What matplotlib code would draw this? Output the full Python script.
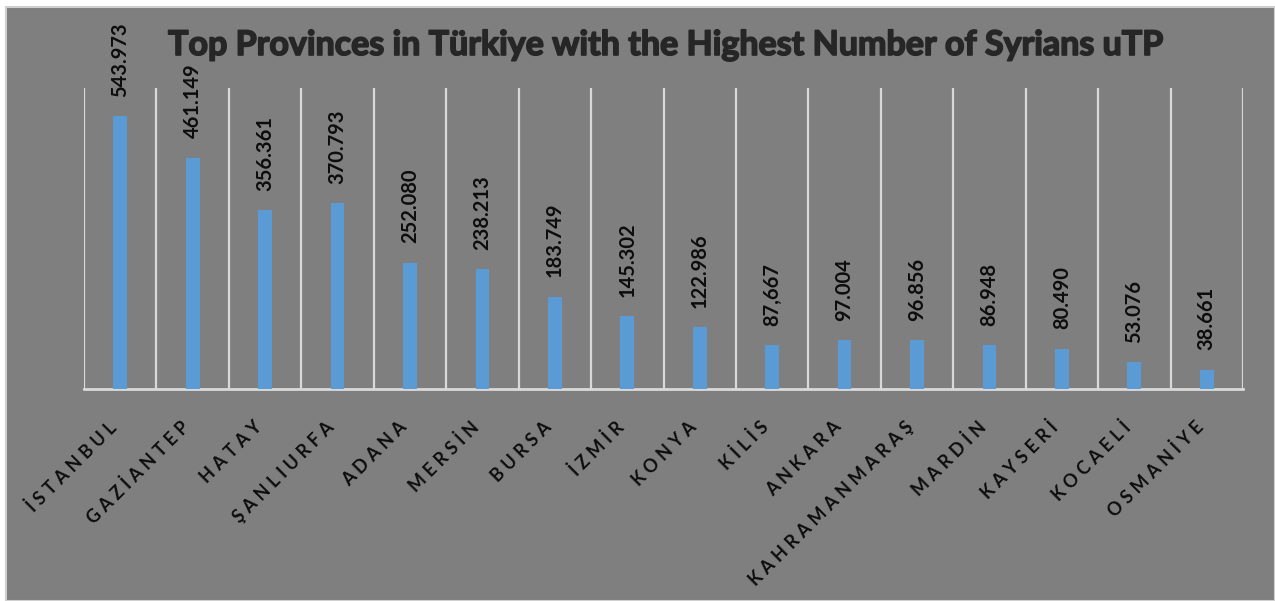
import matplotlib
matplotlib.use('Agg')
import matplotlib.pyplot as plt
import matplotlib.patheffects as pe
from matplotlib.patches import Rectangle

# data
provinces = ['İSTANBUL', 'GAZİANTEP', 'HATAY', 'ŞANLIURFA', 'ADANA', 'MERSİN', 'BURSA', 'İZMİR',
             'KONYA', 'KİLİS', 'ANKARA', 'KAHRAMANMARAŞ', 'MARDİN', 'KAYSERİ', 'KOCAELİ', 'OSMANİYE']
syrians = [543973, 461149, 356361, 370793, 252080, 238213, 183749, 145302,
           122986, 87667, 97004, 96856, 86948, 80490, 53076, 38661]
value_labels = ['543.973', '461.149', '356.361', '370.793', '252.080', '238.213', '183.749', '145.302',
                '122.986', '87,667', '97.004', '96.856', '86.948', '80.490', '53.076', '38.661']

bg = '#7f7f7f'
bar_color = '#5b9bd5'
grid_color = '#d9d9d9'
fonts = ['Lato', 'DejaVu Sans']

fig = plt.figure(figsize=(12.75, 6.01), dpi=100, facecolor='white')
fig.patches.append(Rectangle((6 / 1275, 0), 1 - 6 / 1275, 1 - 7 / 601, transform=fig.transFigure,
                             facecolor=bg, edgecolor='#d0d0d0', linewidth=1.5, zorder=-10))

ax = fig.add_axes([84 / 1275, 1 - 389 / 601, (1243 - 84) / 1275, (389 - 88) / 601])
ax.patch.set_alpha(0)

x = list(range(len(provinces)))
ax.bar(x, syrians, width=0.19, color=bar_color, zorder=3)

ax.set_xlim(-0.5, len(provinces) - 0.5)
ax.set_ylim(0, 600000)

# vertical separators between categories
for b in range(len(provinces) + 1):
    ax.axvline(b - 0.5, color=grid_color, linewidth=1.6, zorder=1)

for side in ['top', 'right', 'left']:
    ax.spines[side].set_visible(False)
ax.spines['bottom'].set_color(grid_color)
ax.spines['bottom'].set_linewidth(2)
ax.set_yticks([])

# the category labels are letter-spaced in the original, narrow spaces mimic that
spaced = ['\u2005'.join(p) for p in provinces]
ax.set_xticks(x)
ax.set_xticklabels(spaced, rotation=45, ha='right', va='top', fontsize=13,
                   fontweight='bold', family=fonts, color='#0d0d0d')
ax.tick_params(axis='x', length=0, pad=21)

for xi, v, lab in zip(x, syrians, value_labels):
    ax.annotate(lab, (xi, v), xytext=(0, 14), textcoords='offset points', rotation=90,
                ha='center', va='bottom', fontsize=14.5, fontweight='bold', family=fonts,
                color='#0d0d0d')

fig.text(666 / 1275, 1 - 45 / 601, 'Top Provinces in Türkiye with the Highest Number of Syrians uTP',
         ha='center', va='center', fontsize=24.5, fontweight='bold', family=fonts, color='#262626',
         path_effects=[pe.withStroke(linewidth=1.2, foreground='#262626')])

fig.savefig('out.png', dpi=100, facecolor=fig.get_facecolor())
